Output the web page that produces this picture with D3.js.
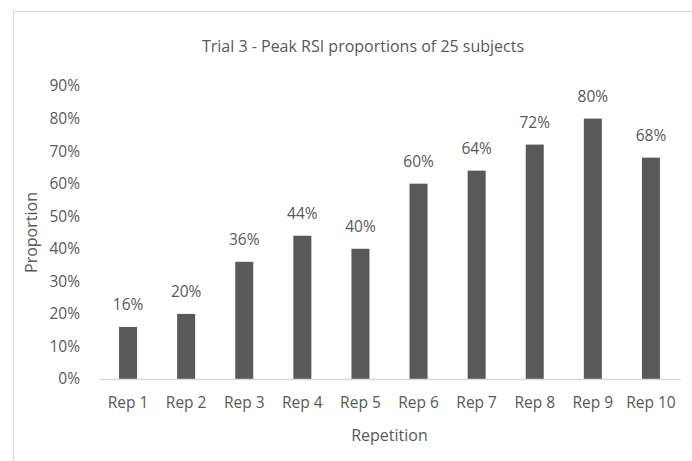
<!DOCTYPE html>
<meta charset="utf-8" />
<script src="https://d3js.org/d3.v7.min.js"></script>
<style>
  body { margin: 0; background: #fff; }
  text { font-family: "Open Sans", "Noto Sans", sans-serif; fill: #595959; }
</style>
<body>
<div id="chart"></div>
<script>
  // data
  const reps = ["Rep 1", "Rep 2", "Rep 3", "Rep 4", "Rep 5", "Rep 6", "Rep 7", "Rep 8", "Rep 9", "Rep 10"];
  const proportions = [0.16, 0.20, 0.36, 0.44, 0.40, 0.60, 0.64, 0.72, 0.80, 0.68];
  const yTicks = [0, 0.1, 0.2, 0.3, 0.4, 0.5, 0.6, 0.7, 0.8, 0.9];

  const W = 692, H = 461;
  const margin = {top: 86, right: 12, bottom: 82, left: 99};
  const width = 680 - margin.left, height = 379 - margin.top;

  const svg = d3.select("#chart").append("svg")
    .attr("width", W).attr("height", H);

  // chart frame
  svg.append("rect")
    .attr("x", 13.5).attr("y", 11.5)
    .attr("width", 700).attr("height", 470)
    .attr("fill", "none").attr("stroke", "#d9d9d9");

  const g = svg.append("g")
    .attr("transform", "translate(" + margin.left + "," + margin.top + ")");

  const x = d3.scaleBand().domain(reps).range([0, width]).paddingInner(0.69).paddingOuter(0.345);
  const y = d3.scaleLinear().domain([0, 0.9]).range([height, 0]);

  // y axis labels (no line)
  const yAxis = g.append("g")
    .call(d3.axisLeft(y).tickValues(yTicks).tickFormat(d3.format(".0%")).tickSize(0).tickPadding(19));
  yAxis.select(".domain").remove();
  yAxis.selectAll("text").style("font-size", "15.5px").attr("fill", "#595959");

  // bars
  g.selectAll("rect.bar")
    .data(proportions)
    .enter().append("rect")
    .attr("class", "bar")
    .attr("x", (d, i) => x(reps[i]))
    .attr("y", d => y(d))
    .attr("width", x.bandwidth())
    .attr("height", d => height - y(d))
    .attr("fill", "#595959");

  // value labels
  g.selectAll("text.val")
    .data(proportions)
    .enter().append("text")
    .attr("class", "val")
    .attr("x", (d, i) => x(reps[i]) + x.bandwidth() / 2)
    .attr("y", d => y(d) - 17)
    .attr("text-anchor", "middle")
    .style("font-size", "15.5px")
    .text(d3.format(".0%"));

  // x axis
  const xAxis = g.append("g")
    .attr("transform", "translate(0," + height + ")")
    .call(d3.axisBottom(x).tickSize(0).tickPadding(18));
  xAxis.select(".domain").attr("stroke", "#d9d9d9").attr("stroke-width", 1.5);
  xAxis.selectAll("text").style("font-size", "15.5px").attr("fill", "#595959");

  // titles
  svg.append("text")
    .attr("x", 363).attr("y", 52)
    .attr("text-anchor", "middle")
    .style("font-size", "16px")
    .text("Trial 3 - Peak RSI proportions of 25 subjects");

  svg.append("text")
    .attr("x", margin.left + width / 2).attr("y", 441)
    .attr("text-anchor", "middle")
    .style("font-size", "16px")
    .text("Repetition");

  svg.append("text")
    .attr("transform", "translate(37," + (margin.top + height / 2) + ") rotate(-90)")
    .attr("text-anchor", "middle")
    .style("font-size", "16px")
    .text("Proportion");
</script>
</body>
